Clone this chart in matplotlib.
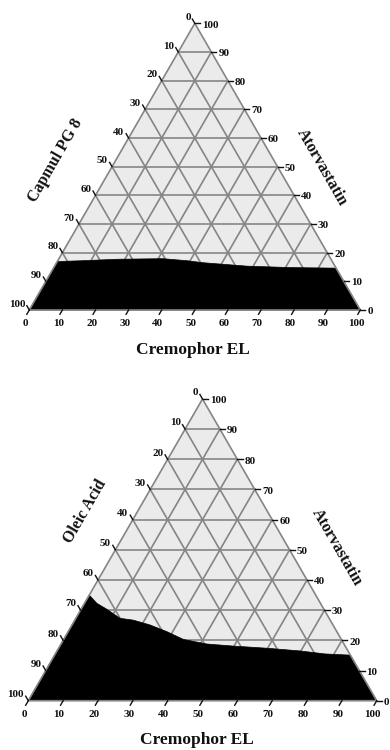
import numpy as np
import matplotlib
matplotlib.use("Agg")
import matplotlib.pyplot as plt
from matplotlib.patches import Polygon

# ---- data ----
tick_values = [0, 10, 20, 30, 40, 50, 60, 70, 80, 90, 100]

top_title_left = "Capmul PG 8"
bottom_title_left = "Oleic Acid"
title_right = "Atorvastatin"
title_bottom = "Cremophor EL"

# boundary of black region: (Cremophor %, Atorvastatin %)
top_boundary_cremophor = [0, 7.6, 17.7, 31.4, 39.0, 44.2, 58.1, 71.4, 85.4]
top_boundary_atorvastatin = [16.9, 17.2, 17.7, 17.9, 17.2, 16.5, 15.3, 14.8, 14.6]

bottom_boundary_cremophor = [0, 3.5, 7.4, 12.7, 16.8, 22.4, 28.3, 34.4, 41.8, 49.8, 59.7, 69.7, 77.4, 84.9]
bottom_boundary_atorvastatin = [35.0, 32.3, 30.3, 27.3, 26.7, 25.1, 22.9, 20.3, 18.8, 18.1, 17.4, 16.5, 15.5, 15.1]

S3 = np.sqrt(3) / 2
FONT = "Liberation Serif"
TXT = "#111111"
GRID = "#858585"


def tc(c, a):
    c = np.asarray(c, float)
    a = np.asarray(a, float)
    return c + a / 2.0, a * S3


def draw_ternary(ax, bc, ba, left_title, left_pos, right_pos, bottom_pos):
    ax.set_axis_off()
    tri = np.array([[0, 0], [100, 0], [50, 100 * S3]])
    ax.add_patch(Polygon(tri, closed=True, facecolor="#ebebeb", edgecolor="none", zorder=1))
    for v in tick_values[1:-1]:
        x, y = tc([0, 100 - v], [v, v])
        ax.plot(x, y, color=GRID, lw=1.2, zorder=2)
        x, y = tc([v, v], [0, 100 - v])
        ax.plot(x, y, color=GRID, lw=1.2, zorder=2)
        x, y = tc([100 - v, 0], [0, 100 - v])
        ax.plot(x, y, color=GRID, lw=1.2, zorder=2)
    xb, yb = tc(bc, ba)
    px = np.concatenate([[0, 100], xb[::-1]])
    py = np.concatenate([[0, 0], yb[::-1]])
    ax.add_patch(Polygon(np.column_stack([px, py]), closed=True, facecolor="black",
                         edgecolor="black", lw=0.5, zorder=3))
    ax.add_patch(Polygon(tri, closed=True, facecolor="none", edgecolor=GRID, lw=1.2, zorder=4))

    L = 1.5
    fs = 8
    for v in tick_values:
        x, y = tc(0, v)
        ex, ey = x - 0.5 * L, y + S3 * L
        ax.plot([x, ex], [y, ey], color=TXT, lw=1.0, zorder=5, clip_on=False)
        ax.text(ex - 0.5, ey + 0.5, f"{100 - v}", ha="right", va="center", fontsize=fs,
                fontweight="bold", family=FONT, color=TXT)
        x, y = tc(100 - v, v)
        ex, ey = x + L, y
        ax.plot([x, ex], [y, ey], color=TXT, lw=1.0, zorder=5, clip_on=False)
        ax.text(ex + 0.6, ey - 0.5, f"{v}", ha="left", va="center", fontsize=fs,
                fontweight="bold", family=FONT, color=TXT)
        x, y = tc(v, 0)
        ex, ey = x - 0.5 * L, y - S3 * L
        ax.plot([x, ex], [y, ey], color=TXT, lw=1.0, zorder=5, clip_on=False)
        ax.text(ex - 0.4, ey - 2.8, f"{v}", ha="center", va="center", fontsize=fs,
                fontweight="bold", family=FONT, color=TXT)

    ax.text(*left_pos, left_title, rotation=60, ha="center", va="center", fontsize=11.5,
            fontweight="bold", family=FONT, color=TXT, rotation_mode="anchor")
    ax.text(*right_pos, title_right, rotation=-60, ha="center", va="center", fontsize=11.5,
            fontweight="bold", family=FONT, color=TXT, rotation_mode="anchor")
    ax.text(*bottom_pos, title_bottom, ha="center", va="center", fontsize=12.5,
            fontweight="bold", family=FONT, color=TXT)


W, H = 390, 750
fig = plt.figure(figsize=(W / 100, H / 100), dpi=100)

ax1 = fig.add_axes([0, 375 / H, 1, 375 / H])
s1 = 3.31
x0, ybase = 29.3, H - 310
ax1.set_xlim((0 - x0) / s1, (W - x0) / s1)
ax1.set_ylim((375 - ybase) / s1, (750 - ybase) / s1)
draw_ternary(ax1, top_boundary_cremophor, top_boundary_atorvastatin, top_title_left,
             (7.8, 45.3), (88.4, 43.2), (49.4, -12.1))

ax2 = fig.add_axes([0, 0, 1, 375 / H])
s2 = 3.484
x0, ybase = 28.3, H - 700.7
ax2.set_xlim((0 - x0) / s2, (W - x0) / s2)
ax2.set_ylim((0 - ybase) / s2, (375 - ybase) / s2)
draw_ternary(ax2, bottom_boundary_cremophor, bottom_boundary_atorvastatin, bottom_title_left,
             (16.3, 54.2), (88.6, 44.1), (48.4, -11.3))

fig.savefig("out.png", dpi=100, facecolor="white")
